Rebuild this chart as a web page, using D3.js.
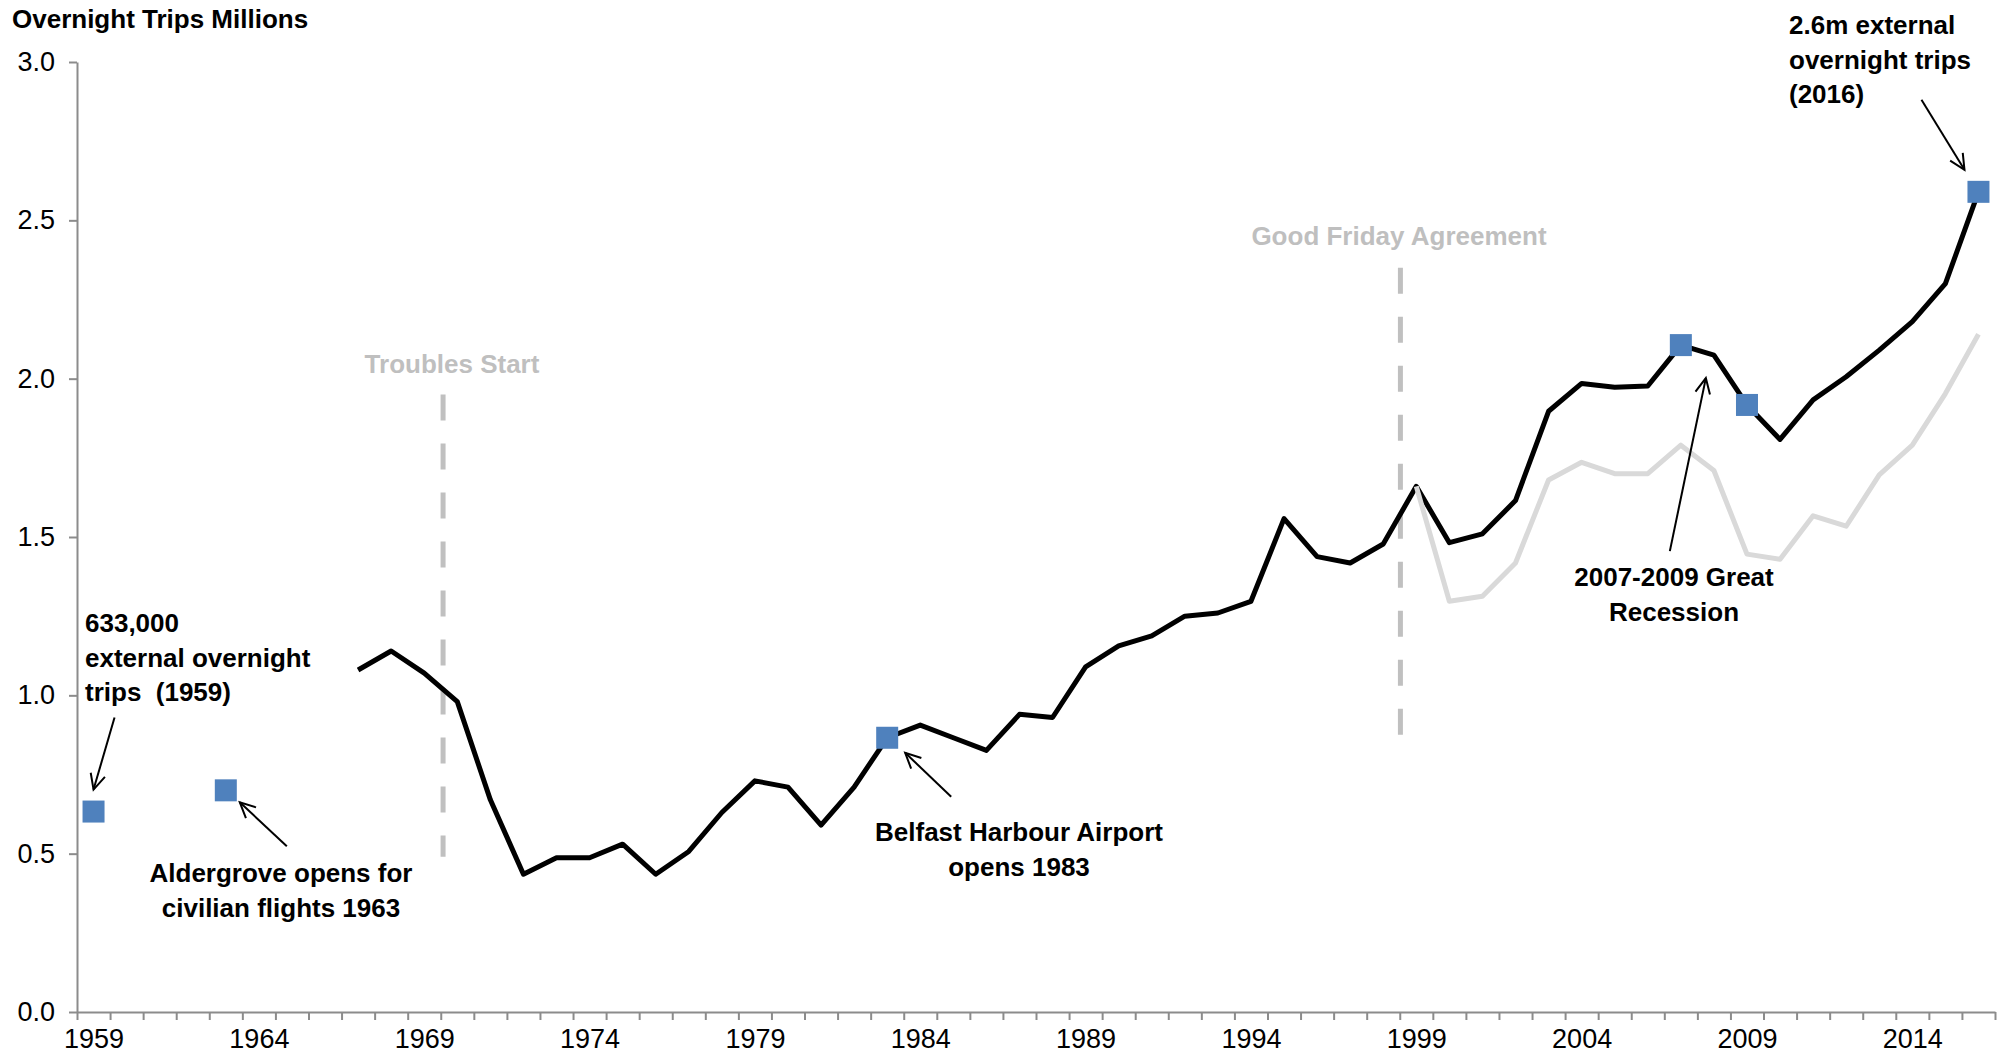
<!DOCTYPE html>
<head>
<meta charset="utf-8">
<title>Overnight Trips Millions</title>
</head>
<style>
body { margin: 0; background: #fff; }
svg text { font-family: "Liberation Sans", Arial, sans-serif; white-space: pre; }
.axis path, .axis line { stroke: #8c8c8c; stroke-width: 2; }
.axis text { font-size: 27px; fill: #000; }
.note { font-size: 26px; font-weight: bold; fill: #000; }
.event { font-size: 26px; font-weight: bold; fill: #bfbfbf; }
</style>
<body>
<script src="https://d3js.org/d3.v7.min.js"></script>
<script>

// categories on the x axis
var categories = d3.range(1959, 2017);
var labelYears = [1959, 1964, 1969, 1974, 1979, 1984, 1989, 1994, 1999, 2004, 2009, 2014];
var yTicks = [0, 0.5, 1.0, 1.5, 2.0, 2.5, 3.0];

// external overnight trips (millions), from 1967
var tripsStart = 1967;
var tripsValues = [1.08, 1.14, 1.07, 0.98, 0.67, 0.435, 0.487, 0.487, 0.53, 0.435,
  0.507, 0.63, 0.73, 0.71, 0.59, 0.71, 0.866, 0.906, 0.866, 0.826,
  0.94, 0.93, 1.09, 1.156, 1.188, 1.25, 1.26, 1.297, 1.558, 1.438,
  1.418, 1.478, 1.66, 1.482, 1.51, 1.615, 1.897, 1.985, 1.973, 1.977,
  2.106, 2.074, 1.917, 1.808, 1.933, 2.006, 2.09, 2.18, 2.30, 2.59];

// grey series, from 1999
var greyStart = 1999;
var greyValues = [1.66, 1.297, 1.313, 1.418, 1.68, 1.736, 1.70, 1.70, 1.79, 1.71,
  1.446, 1.43, 1.567, 1.534, 1.696, 1.79, 1.953, 2.14];

// highlighted points
var markerYears = [1959, 1963, 1983, 2007, 2009, 2016];
var markerValues = [0.633, 0.70, 0.866, 2.106, 1.917, 2.59];

// dashed event lines
var events = [
  {name: "Troubles Start", at: 1969.57, top: 1.95, bottom: 0.49},
  {name: "Good Friday Agreement", at: 1998.52, top: 2.35, bottom: 0.86}
];

var width = 2002, height = 1059;
var mLeft = 77, mRight = 1995, mTop = 62, mBottom = 1012;

var svg = d3.select("body").append("svg")
  .attr("width", width)
  .attr("height", height);

var x = d3.scaleLinear().domain([1958.5, 2016.5]).range([mLeft, mRight]);
var y = d3.scaleLinear().domain([0, 3]).range([mBottom, mTop]);

// y axis
svg.append("g")
  .attr("class", "axis")
  .attr("transform", "translate(" + mLeft + ",0)")
  .call(d3.axisLeft(y).tickValues(yTicks).tickFormat(d3.format(".1f")).tickSize(8).tickSizeOuter(0).tickPadding(14));

// x axis tick marks between categories
svg.append("g")
  .attr("class", "axis")
  .attr("transform", "translate(0," + mBottom + ")")
  .call(d3.axisBottom(x).tickValues(d3.range(1958.5, 2017, 1)).tickFormat("").tickSize(8).tickSizeOuter(0));

// x axis labels
var xl = svg.append("g")
  .attr("class", "axis")
  .attr("transform", "translate(0," + mBottom + ")")
  .call(d3.axisBottom(x).tickValues(labelYears).tickFormat(d3.format("d")).tickSize(0).tickPadding(17));
xl.select(".domain").remove();

svg.append("text")
  .attr("class", "note")
  .attr("x", 12)
  .attr("y", 28)
  .text("Overnight Trips Millions");

// event lines
events.forEach(function(e) {
  svg.append("line")
    .attr("x1", x(e.at)).attr("x2", x(e.at))
    .attr("y1", y(e.top)).attr("y2", y(e.bottom))
    .style("stroke", "#c0c0c0")
    .style("stroke-width", 5)
    .style("stroke-dasharray", "26,23");
});
svg.append("text").attr("class", "event").attr("text-anchor", "middle")
  .attr("x", 452).attr("y", 373).text(events[0].name);
svg.append("text").attr("class", "event").attr("text-anchor", "middle")
  .attr("x", 1399).attr("y", 245).text(events[1].name);

var line = d3.line()
  .x(function(d) { return x(d.year); })
  .y(function(d) { return y(d.value); });

var trips = tripsValues.map(function(v, i) { return {year: tripsStart + i, value: v}; });
var grey = greyValues.map(function(v, i) { return {year: greyStart + i, value: v}; });

svg.append("path")
  .datum(trips)
  .attr("d", line)
  .style("fill", "none")
  .style("stroke", "#000")
  .style("stroke-width", 5)
  .style("stroke-linejoin", "round");

svg.append("path")
  .datum(grey)
  .attr("d", line)
  .style("fill", "none")
  .style("stroke", "#d9d9d9")
  .style("stroke-width", 5)
  .style("stroke-linejoin", "round");

var ms = 22;
svg.append("g")
  .selectAll("rect")
  .data(markerYears)
  .enter().append("rect")
  .attr("x", function(d) { return x(d) - ms / 2; })
  .attr("y", function(d, i) { return y(markerValues[i]) - ms / 2; })
  .attr("width", ms)
  .attr("height", ms)
  .style("fill", "#4f81bd");

// annotations
var notes = [
  {lines: ["633,000", "external overnight", "trips  (1959)"], x: 85, y: 632, anchor: "start",
   year: 1959, value: 0.633, from: [21, -94], tip: [0, -22]},
  {lines: ["Aldergrove opens for", "civilian flights 1963"], x: 281, y: 882, anchor: "middle",
   year: 1963, value: 0.70, from: [61, 56], tip: [14, 12]},
  {lines: ["Belfast Harbour Airport", "opens 1983"], x: 1019, y: 841, anchor: "middle",
   year: 1983, value: 0.866, from: [64, 59], tip: [18, 15]},
  {lines: ["2007-2009 Great", "Recession"], x: 1674, y: 586, anchor: "middle",
   year: 2007, value: 2.106, from: [-11, 206], tip: [25, 33]},
  {lines: ["2.6m external", "overnight trips", "(2016)"], x: 1789, y: 34, anchor: "start",
   year: 2016, value: 2.59, from: [-57, -92], tip: [-14, -22]}
];

notes.forEach(function(n) {
  var t = svg.append("text").attr("class", "note").attr("text-anchor", n.anchor);
  n.lines.forEach(function(s, i) {
    t.append("tspan").attr("x", n.x).attr("y", n.y + i * 34.5).text(s);
  });
  var px = x(n.year), py = y(n.value);
  var x1 = px + n.from[0], y1 = py + n.from[1];
  var x2 = px + n.tip[0], y2 = py + n.tip[1];
  var ang = Math.atan2(y2 - y1, x2 - x1);
  var g = svg.append("g").style("stroke", "#000").style("stroke-width", 2).style("fill", "none");
  g.append("line").attr("x1", x1).attr("y1", y1).attr("x2", x2).attr("y2", y2);
  var len = 17, spread = 0.45;
  g.append("path").attr("d",
    "M" + (x2 - len * Math.cos(ang - spread)) + "," + (y2 - len * Math.sin(ang - spread)) +
    "L" + x2 + "," + y2 +
    "L" + (x2 - len * Math.cos(ang + spread)) + "," + (y2 - len * Math.sin(ang + spread)));
});

</script>
</body>
